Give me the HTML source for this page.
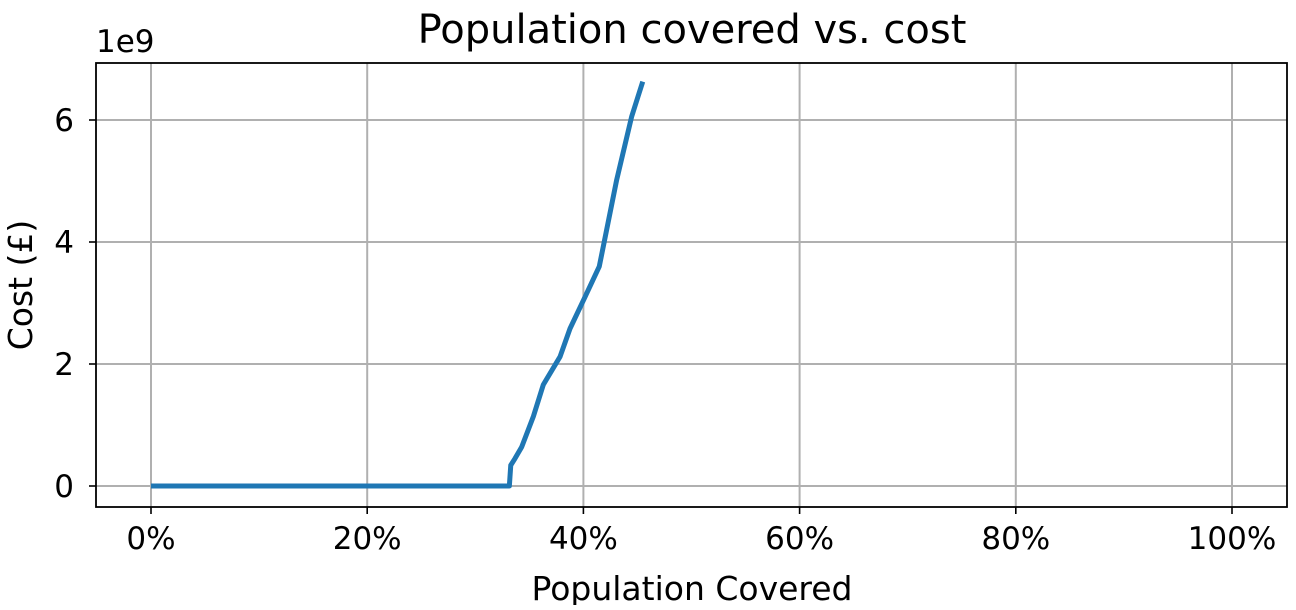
<!DOCTYPE html>
<html><head><meta charset="utf-8"><style>
html,body{margin:0;padding:0;background:#fff;}
svg text{font-family:"DejaVu Sans","Liberation Sans",sans-serif;fill:#000;}
</style></head><body>
<svg id="chart" width="1296" height="605" xmlns="http://www.w3.org/2000/svg"></svg>
<script>
const xTicks=[0,20,40,60,80,100];
const xTickLabels=["0%","20%","40%","60%","80%","100%"];
const yTicks=[0,2,4,6];
const yTickLabels=["0","2","4","6"];
const coveragePct=[0,33.15,33.28,33.67,34.29,35.37,36.29,37.84,38.76,40.15,41.47,43.08,44.47,45.49];
const costBillions=[0,0,0.34,0.45,0.64,1.14,1.66,2.12,2.58,3.10,3.60,5.02,6.06,6.63];

const svg=document.getElementById('chart');
const NS='http://www.w3.org/2000/svg';
const L=96,R=1287,T=63,B=507;
const sx=v=>151+v*(1232-151)/100;
const sy=v=>486-v*61;
function mk(tag,attrs,parent){const e=document.createElementNS(NS,tag);for(const k in attrs)e.setAttribute(k,attrs[k]);(parent||svg).appendChild(e);return e;}

const grid=mk('g',{});


xTicks.forEach((t,i)=>{
  const x=sx(t);
  const gl=mk('line',{x1:x,x2:x,y1:T,y2:B,stroke:'#b0b0b0','stroke-width':2},grid);
  
  
  mk('line',{x1:x,x2:x,y1:B,y2:B+7,stroke:'#000','stroke-width':1.6});
  const tx=mk('text',{x:x,y:B+42,'text-anchor':'middle','font-size':31});
  tx.textContent=xTickLabels[i];
  
  
});
yTicks.forEach((t,i)=>{
  const y=sy(t);
  const gl=mk('line',{x1:L,x2:R,y1:y,y2:y,stroke:'#b0b0b0','stroke-width':2},grid);
  
  
  mk('line',{x1:L-7,x2:L,y1:y,y2:y,stroke:'#000','stroke-width':1.6});
  const tx=mk('text',{x:L-22,y:y+11,'text-anchor':'end','font-size':31});
  tx.textContent=yTickLabels[i];
  
  
});

const pts=coveragePct.map((v,i)=>sx(v)+','+sy(costBillions[i])).join(' ');
const line=mk('polyline',{points:pts,fill:'none',stroke:'#1f77b4','stroke-width':5,'stroke-linejoin':'round'});



const frame=mk('rect',{x:L,y:T,width:R-L,height:B-T,fill:'none',stroke:'#000','stroke-width':1.8});



const title=mk('text',{x:692,y:43,'text-anchor':'middle','font-size':40});
title.textContent='Population covered vs. cost';



const off=mk('text',{x:96,y:52,'font-size':31});
off.textContent='1e9';



const xl=mk('text',{x:692,y:600,'text-anchor':'middle','font-size':33});
xl.textContent='Population Covered';



const yl=mk('text',{x:0,y:0,'text-anchor':'middle','font-size':33,transform:'translate(32,285) rotate(-90)'});
yl.textContent='Cost (£)';


</script>
</body></html>
